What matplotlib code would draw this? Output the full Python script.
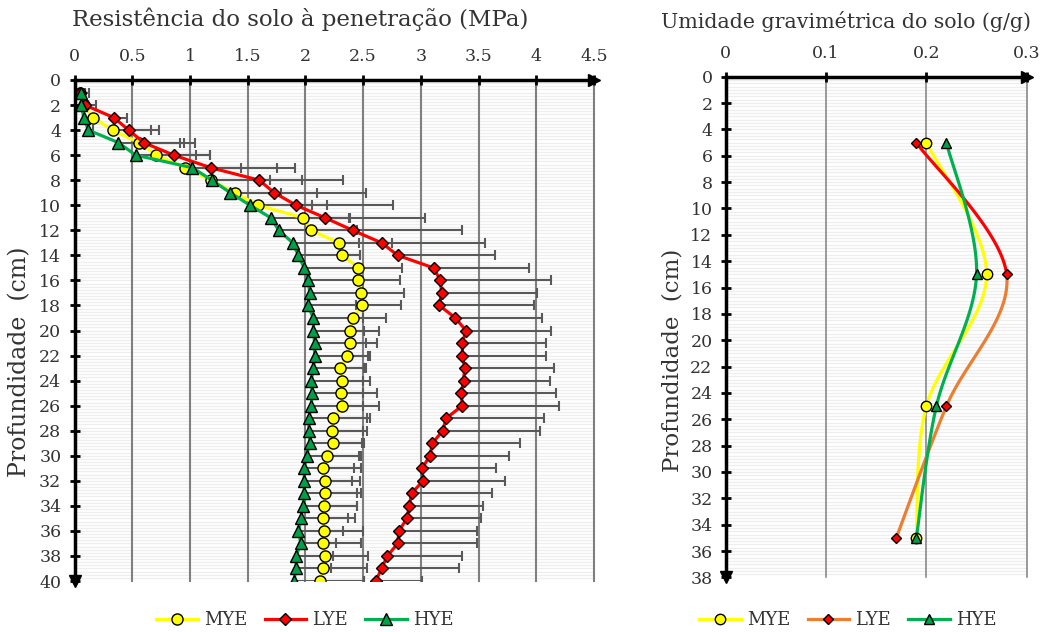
import matplotlib.pyplot as plt
import numpy as np
from matplotlib.lines import Line2D

plt.rcParams['font.family'] = ['DejaVu Serif']

# Resistência à penetração (MPa) por profundidade (cm)
profundidade = np.arange(1, 41)

mye_media = [0.05, 0.08, 0.16, 0.33, 0.56, 0.71, 0.96, 1.18, 1.39, 1.59,
             1.98, 2.05, 2.29, 2.32, 2.46, 2.46, 2.48, 2.49, 2.41, 2.39,
             2.39, 2.36, 2.30, 2.32, 2.31, 2.32, 2.24, 2.23, 2.24, 2.19,
             2.15, 2.17, 2.17, 2.16, 2.15, 2.16, 2.15, 2.17, 2.15, 2.13]
lye_media = [0.05, 0.09, 0.34, 0.47, 0.60, 0.86, 1.18, 1.60, 1.73, 1.92,
             2.17, 2.41, 2.66, 2.80, 3.11, 3.17, 3.18, 3.16, 3.30, 3.39,
             3.36, 3.36, 3.38, 3.37, 3.35, 3.36, 3.22, 3.19, 3.10, 3.08,
             3.01, 3.02, 2.92, 2.90, 2.88, 2.81, 2.80, 2.71, 2.66, 2.61]
hye_media = [0.06, 0.06, 0.08, 0.12, 0.38, 0.53, 1.02, 1.19, 1.35, 1.52,
             1.70, 1.77, 1.89, 1.94, 1.99, 2.02, 2.04, 2.02, 2.07, 2.07,
             2.08, 2.08, 2.07, 2.05, 2.06, 2.05, 2.03, 2.03, 2.04, 2.01,
             1.99, 1.99, 1.99, 1.98, 1.96, 1.94, 1.96, 1.92, 1.92, 1.90]

# Limite superior das barras de erro (média + desvio)
mye_sup = [0.095, 0.115, 0.19, 0.664, 0.952, 1.175, 1.756, 1.967, 2.097, 2.184,
           2.38, 2.443, 2.746, 2.47, 2.833, 2.818, 2.853, 2.827, 2.70, 2.64,
           2.624, 2.558, 2.524, 2.558, 2.62, 2.636, 2.558, 2.535, 2.507, 2.486,
           2.48, 2.47, 2.486, 2.45, 2.43, 2.50, 2.478, 2.544, 2.535, 2.51]
lye_sup = [0.125, 0.188, 0.456, 0.736, 1.045, 1.175, 1.91, 2.33, 2.521, 2.761,
           3.04, 3.358, 3.56, 3.646, 3.94, 4.125, 4.007, 3.978, 4.05, 4.125,
           4.088, 4.088, 4.154, 4.122, 4.175, 4.195, 4.065, 4.036, 3.857, 3.762,
           3.65, 3.727, 3.617, 3.54, 3.525, 3.49, 3.49, 3.358, 3.329, 3.012]
hye_sup = [0.095, 0.115, 0.16, 0.159, 0.918, 1.053, 1.443, 1.693, 1.788, 2.054,
           2.39, 2.41, 2.466, 2.47, 2.48, 2.48, 2.49, 2.435, 2.495, 2.51,
           2.524, 2.544, 2.51, 2.495, 2.495, 2.495, 2.535, 2.495, 2.49, 2.463,
           2.42, 2.405, 2.443, 2.45, 2.365, 2.328, 2.264, 2.235, 2.22, 2.51]

# Umidade gravimétrica (g/g)
prof_umidade = [5, 15, 25, 35]
mye_umidade = [0.20, 0.26, 0.20, 0.19]
lye_umidade = [0.19, 0.28, 0.22, 0.17]
hye_umidade = [0.22, 0.25, 0.21, 0.19]

AMARELO = '#ffff00'
VERMELHO = '#ff0000'
LARANJA = '#ed7d31'
VERDE = '#00b050'
VERDE_MARCA = '#00a04a'
CINZA_TXT = '#333333'

fig = plt.figure(figsize=(10.41, 6.32), dpi=100)
ax1 = fig.add_axes([74.5/1041, 1-581/632, (594-74.5)/1041, (581-80)/632])
ax2 = fig.add_axes([725.7/1041, 1-577.4/632, (1026.7-725.7)/1041, (577.4-76.7)/632])


def estilo_eixo(ax, xmax, ymax, xticks, xlabels, lw_grade):
    ax.set_xlim(0, xmax)
    ax.set_ylim(ymax, 0)
    ax.set_xticks(xticks)
    ax.set_xticklabels(xlabels)
    ax.set_yticks(np.arange(0, ymax + 1, 2))
    ax.xaxis.tick_top()
    ax.tick_params(direction='inout', length=7, width=2, labelsize=12.5,
                   labelcolor=CINZA_TXT, color='black')
    ax.tick_params(axis='x', pad=7)
    ax.tick_params(axis='y', pad=6)
    for lado in ['right', 'bottom']:
        ax.spines[lado].set_visible(False)
    for lado in ['left', 'top']:
        ax.spines[lado].set_linewidth(2.5)
        ax.spines[lado].set_zorder(6)
    # fundo listrado
    for yy in np.arange(0, ymax, 0.25):
        ax.axhline(yy, color='#eeeeee', lw=0.9, zorder=0)
    for xx in xticks[1:]:
        ax.axvline(xx, color='#7f7f7f', lw=lw_grade, zorder=1, clip_on=False)
    # setas
    ax.plot(1, 1, marker='>', color='black', ms=9, transform=ax.transAxes,
            clip_on=False, zorder=7)
    ax.plot(0, 0, marker='v', color='black', ms=9, transform=ax.transAxes,
            clip_on=False, zorder=7)


estilo_eixo(ax1, 4.5, 40, np.arange(0, 4.51, 0.5),
            ['0', '0.5', '1', '1.5', '2', '2.5', '3', '3.5', '4', '4.5'], 1.5)
estilo_eixo(ax2, 0.3, 38, [0, 0.1, 0.2, 0.3], ['0', '0.1', '0.2', '0.3'], 1.1)

# Gráfico da esquerda
series = [
    (mye_media, mye_sup, AMARELO, AMARELO, 'o', 8, 'MYE'),
    (lye_media, lye_sup, VERMELHO, VERMELHO, 'D', 6.2, 'LYE'),
    (hye_media, hye_sup, VERDE, VERDE_MARCA, '^', 8, 'HYE'),
]
for media, sup, cor, cor_marca, marca, tam, nome in series:
    media = np.array(media)
    erro = np.array(sup) - media
    ax1.errorbar(media, profundidade, xerr=[np.zeros_like(erro), erro], fmt='none',
                 ecolor='#595959', elinewidth=1.5, capsize=3.3, capthick=1.5, zorder=2)
for i, (media, sup, cor, cor_marca, marca, tam, nome) in enumerate(series):
    ax1.plot(media, profundidade, color=cor, lw=2.3, marker=marca, ms=tam,
             mfc=cor_marca, mec='black', mew=1.0, label=nome, zorder=3 + i)

fig.legend(*ax1.get_legend_handles_labels(), loc='center', ncol=3,
           bbox_to_anchor=(305/1041, 1-620/632), frameon=False, fontsize=13,
           handlelength=2.3, columnspacing=0.95, handletextpad=0.35,
           labelcolor=CINZA_TXT)


# Gráfico da direita: linhas suavizadas
def suavizar(ax, xs, ys, n=40):
    pts = ax.transData.transform(np.column_stack([xs, ys]))
    P = np.vstack([pts[0], pts, pts[-1]])
    trechos = []
    t = np.linspace(0, 1, n)[:, None]
    for i in range(1, len(P) - 2):
        p0, p1, p2, p3 = P[i - 1], P[i], P[i + 1], P[i + 2]
        c1 = p1 + (p2 - p0) / 6
        c2 = p2 - (p3 - p1) / 6
        seg = (1 - t)**3 * p1 + 3 * (1 - t)**2 * t * c1 + 3 * (1 - t) * t**2 * c2 + t**3 * p2
        trechos.append(ax.transData.inverted().transform(seg))
    return trechos


for trecho in suavizar(ax2, mye_umidade, prof_umidade):
    ax2.plot(trecho[:, 0], trecho[:, 1], color=AMARELO, lw=2.3, zorder=3)
for k, trecho in enumerate(suavizar(ax2, lye_umidade, prof_umidade)):
    ax2.plot(trecho[:, 0], trecho[:, 1], color=VERMELHO if k == 0 else LARANJA,
             lw=2.3, zorder=3)
for trecho in suavizar(ax2, hye_umidade, prof_umidade):
    ax2.plot(trecho[:, 0], trecho[:, 1], color=VERDE, lw=2.3, zorder=3)

ax2.plot(mye_umidade, prof_umidade, 'o', ms=7.5, mfc=AMARELO, mec='black', mew=1.0, zorder=4)
ax2.plot(lye_umidade, prof_umidade, 'D', ms=5.5, mfc=VERMELHO, mec='black', mew=1.0, zorder=5)
ax2.plot(hye_umidade, prof_umidade, '^', ms=7.5, mfc=VERDE_MARCA, mec='black', mew=1.0, zorder=6)

alcas = [
    Line2D([], [], color=AMARELO, lw=2.3, marker='o', ms=7.5, mfc=AMARELO, mec='black'),
    Line2D([], [], color=LARANJA, lw=2.3, marker='D', ms=5.5, mfc=VERMELHO, mec='black'),
    Line2D([], [], color=VERDE, lw=2.3, marker='^', ms=7.5, mfc=VERDE_MARCA, mec='black'),
]
fig.legend(alcas, ['MYE', 'LYE', 'HYE'], loc='center', ncol=3,
           bbox_to_anchor=(848/1041, 1-620/632), frameon=False, fontsize=13,
           handlelength=2.3, columnspacing=0.95, handletextpad=0.35,
           labelcolor=CINZA_TXT)

# Títulos e rótulos
fig.text(300/1041, 1-19/632, 'Resistência do solo à penetração (MPa)', ha='center',
         va='center', fontsize=16.5, color=CINZA_TXT)
fig.text(846/1041, 1-21/632, 'Umidade gravimétrica do solo (g/g)', ha='center',
         va='center', fontsize=14.8, color=CINZA_TXT)
fig.text(20/1041, 1-362/632, 'Profundidade  (cm)', rotation=90, ha='center',
         va='center', fontsize=17, color=CINZA_TXT)
fig.text(672/1041, 1-360/632, 'Profundidade  (cm)', rotation=90, ha='center',
         va='center', fontsize=16.5, color=CINZA_TXT)

plt.savefig('out.png', dpi=100)
plt.close()
